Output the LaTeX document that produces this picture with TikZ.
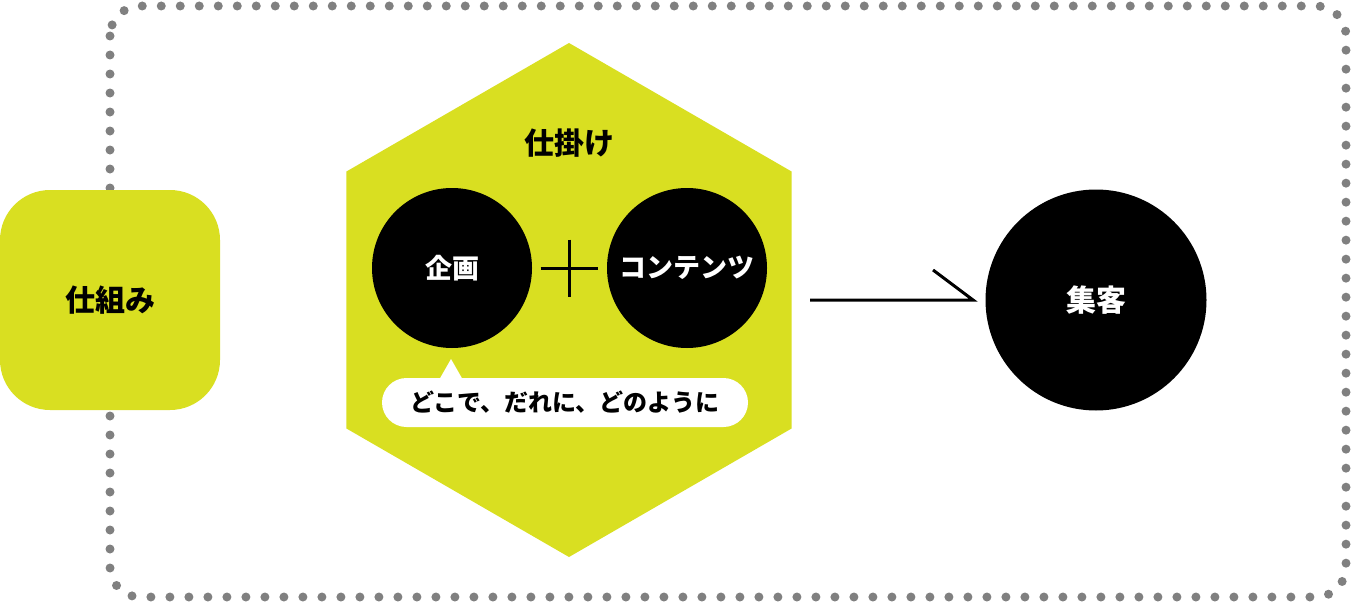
\documentclass[tikz,border=0pt]{standalone}
\usepackage{fontspec}
\setmainfont{Noto Sans CJK JP}[BoldFont={Noto Sans CJK JP Black}]
\definecolor{leaf}{RGB}{217,223,33}
\definecolor{dotgray}{RGB}{128,128,128}

\begin{document}
\begin{tikzpicture}[x=1pt,y=-1pt]
\tikzstyle{ball}=[circle,fill=black,text=white,inner sep=0pt]
\tikzstyle{bigtext}=[font=\bfseries\fontsize{30}{30}\selectfont]
\tikzstyle{midtext}=[font=\bfseries\fontsize{27}{27}\selectfont]
\useasboundingbox (0,0) rectangle (1351,602);

% dotted frame
\draw[dotgray,line width=9pt,line cap=round,dash pattern=on 0pt off 19pt,rounded corners=30pt]
  (110,6) rectangle (1346,597);

% left box
\node[fill=leaf,rounded corners=50pt,minimum width=220pt,minimum height=220pt,bigtext] (shikumi) at (110,300) {仕組み};

% hexagon
\coordinate (hex) at (569,300);
\fill[leaf] (hex) +(90:257) -- +(150:257) -- +(210:257) -- +(270:257) -- +(330:257) -- +(30:257) -- cycle;
\node[bigtext] (shikake) at (569,143) {仕掛け};

\path (452,268) node[ball,minimum size=160pt,midtext](kikaku){企画}
      (687,268) node[ball,minimum size=160pt,midtext](content){コンテンツ};
\coordinate (plus) at (569,268);
\draw[line width=3pt] (plus) ++(-28.5,0) -- ++(57,0);
\draw[line width=3pt] (plus) ++(0,-28.5) -- ++(0,57);

% bubble
\coordinate (tail) at (451,359);
\fill[white] (tail) -- ++(-12,21) -- ++(24,0) -- cycle;
\node[fill=white,rounded corners=24.5pt,minimum width=366pt,minimum height=49pt,inner sep=0pt,
  font=\bfseries\fontsize{24}{24}\selectfont] (where) at (565,402.5) {どこで、だれに、どのように};

% arrow
\coordinate (from) at (810,300);
\coordinate (to) at (973,300);
\draw[line width=3pt] (from) -- (to) -- ++(-40,-30);

\path (1096,300) node[ball,minimum size=221pt,bigtext](shuukyaku){集客};
\end{tikzpicture}
\end{document}
